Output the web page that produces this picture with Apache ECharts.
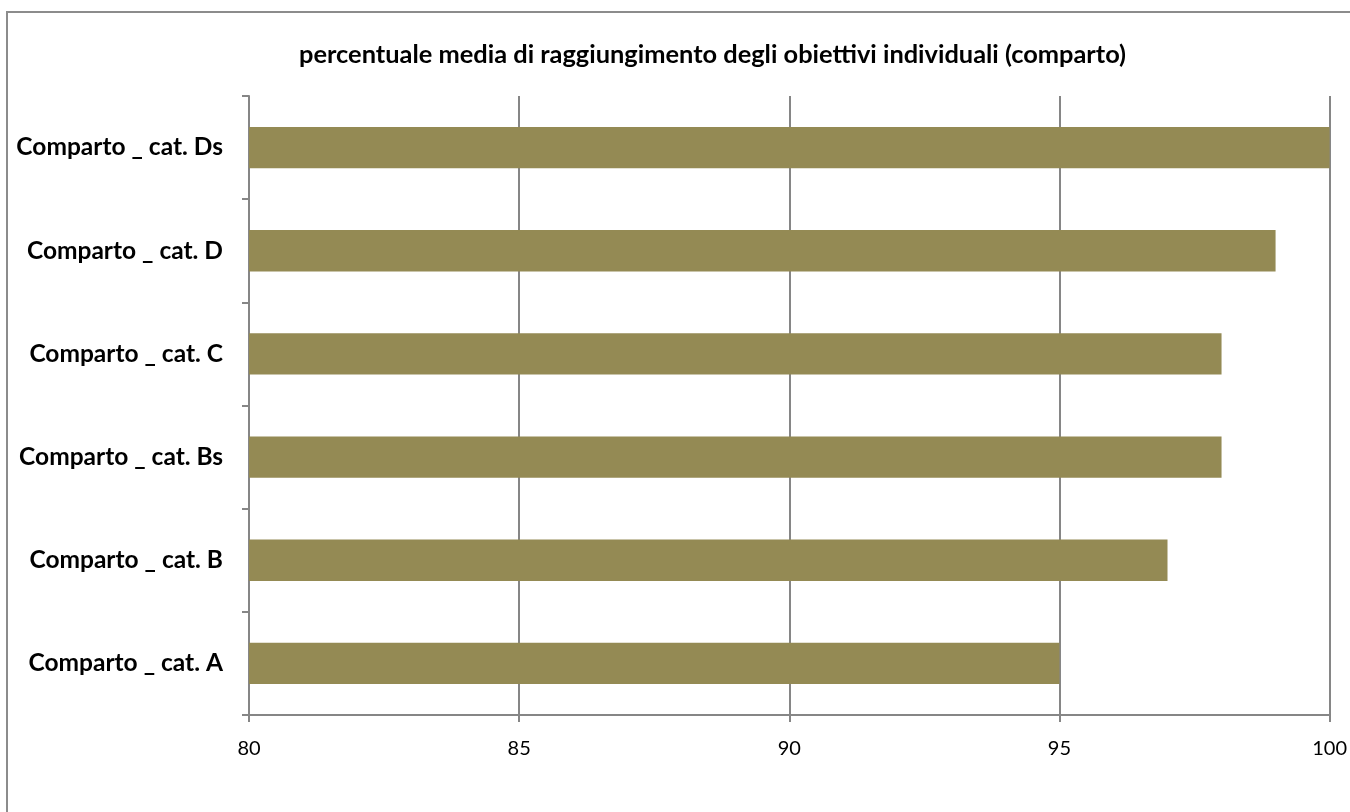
<!DOCTYPE html>
<html>
<head>
<meta charset="utf-8">
<script src="https://cdn.jsdelivr.net/npm/echarts@6/dist/echarts.min.js"></script>
<style>
html,body{margin:0;padding:0;background:#fff;}
#c{width:1350px;height:812px;}
</style>
</head>
<body>
<div id="c"></div>
<script>
const titleText = 'percentuale media di raggiungimento degli obiettivi individuali (comparto)';
const categories = ['Comparto _ cat. A','Comparto _ cat. B','Comparto _ cat. Bs','Comparto _ cat. C','Comparto _ cat. D','Comparto _ cat. Ds'];
const values = [95, 97, 98, 98, 99, 100];
const xMin = 80, xMax = 100, xStep = 5;

const chart = echarts.init(document.getElementById('c'));
const font = 'Lato, "Open Sans", sans-serif';
chart.setOption({
  animation: false,
  backgroundColor: '#fff',
  title: {
    text: titleText,
    left: 294,
    top: 37,
    textStyle: {fontFamily: font, fontWeight: 'bold', fontSize: 25.4, color: '#000'}
  },
  graphic: [{
    type: 'rect',
    shape: {x: 7, y: 12, width: 1360, height: 820},
    style: {fill: 'none', stroke: '#8c8c8c', lineWidth: 2},
    silent: true
  }],
  grid: {left: 249, right: 20, top: 96, bottom: 97, containLabel: false},
  xAxis: {
    type: 'value', min: xMin, max: xMax, interval: xStep,
    axisLine: {show: true, lineStyle: {color: '#868686', width: 2}},
    axisTick: {show: true, length: 7, lineStyle: {color: '#868686', width: 2}},
    splitLine: {show: true, lineStyle: {color: '#868686', width: 2}},
    axisLabel: {fontFamily: font, fontSize: 20, color: '#000', margin: 24}
  },
  yAxis: {
    type: 'category', data: categories,
    axisLine: {show: true, lineStyle: {color: '#868686', width: 2}},
    axisTick: {show: true, length: 7, alignWithLabel: false, lineStyle: {color: '#868686', width: 2}},
    axisLabel: {fontFamily: font, fontSize: 24.5, fontWeight: 'bold', color: '#000', margin: 26}
  },
  series: [{
    type: 'bar',
    data: values,
    barWidth: '40%',
    itemStyle: {color: '#948A54'}
  }]
});
</script>
</body>
</html>
